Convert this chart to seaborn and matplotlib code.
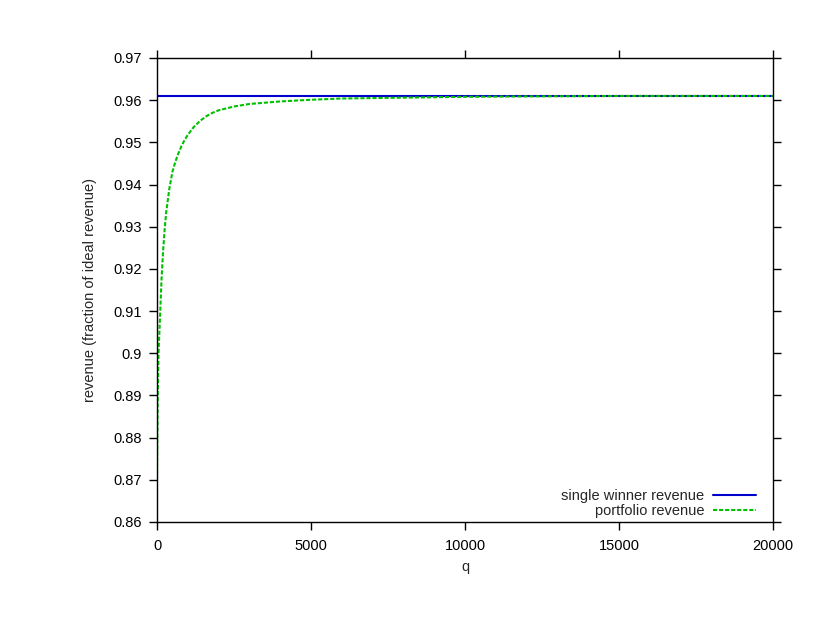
import numpy as np
import pandas as pd
import matplotlib
matplotlib.use("Agg")
import matplotlib.pyplot as plt
import seaborn as sns

# data
q_single = [0, 20000]
single_revenue = [0.961, 0.961]

q_portfolio = [0, 10, 25, 50, 100, 150, 200, 250, 300, 400, 500, 600, 700,
               800, 900, 1000, 1200, 1400, 1600, 1800, 2000, 2500, 3000, 4000,
               5000, 6000, 8000, 10000, 12000, 15000, 20000]
portfolio_revenue = [0.870, 0.880, 0.890, 0.900, 0.909, 0.918, 0.9245, 0.9295,
                     0.9335, 0.9390, 0.9430, 0.9455, 0.9475, 0.9492, 0.9506,
                     0.9518, 0.9537, 0.9551, 0.9562, 0.9570, 0.9576, 0.9585,
                     0.9591, 0.9597, 0.9601, 0.9604, 0.9606, 0.9608, 0.9609,
                     0.9610, 0.9610]

xticks = [0, 5000, 10000, 15000, 20000]
yticks = [0.86, 0.87, 0.88, 0.89, 0.90, 0.91, 0.92, 0.93, 0.94, 0.95, 0.96, 0.97]
ytick_labels = ["0.86", "0.87", "0.88", "0.89", "0.9", "0.91", "0.92", "0.93",
                "0.94", "0.95", "0.96", "0.97"]

sns.set_style("ticks")
plt.rcParams['font.family'] = ['Liberation Sans', 'DejaVu Sans']

fig = plt.figure(figsize=(8.25, 6.37), dpi=100)
ax = fig.add_axes([157/825, 1-522/637, (773-157)/825, (522-58)/637])

df1 = pd.DataFrame({"q": q_single, "rev": single_revenue})
df2 = pd.DataFrame({"q": q_portfolio, "rev": portfolio_revenue})

sns.lineplot(data=df1, x="q", y="rev", ax=ax, color="#0000cc", lw=1.5,
             label="single winner revenue")
sns.lineplot(data=df2, x="q", y="rev", ax=ax, color="#00c000", lw=1.5,
             linestyle=(0, (2, 0.9)), label="portfolio revenue")

ax.set_xlim(0, 20000)
ax.set_ylim(0.86, 0.97)
ax.set_xticks(xticks)
ax.set_xticklabels([str(t) for t in xticks])
ax.set_yticks(yticks)
ax.set_yticklabels(ytick_labels)
ax.tick_params(direction="out", length=6, width=1, top=True, right=True,
               labelsize=10.5, colors="black")
ax.tick_params(axis="y", pad=5)
ax.tick_params(axis="x", pad=6)
for s in ax.spines.values():
    s.set_linewidth(1)
    s.set_color("black")

ax.set_xlabel("q", fontsize=10.5, labelpad=5)
ax.set_ylabel("revenue (fraction of ideal revenue)", fontsize=10.5, labelpad=12)

leg = ax.legend(loc="lower right", bbox_to_anchor=(1 - 13/616, 0),
                frameon=False, markerfirst=False,
                fontsize=10.5, handlelength=2.9, borderaxespad=0,
                borderpad=0.3, labelspacing=0.05, handletextpad=0.6)
for t in leg.get_texts():
    t.set_ha("right")

fig.savefig("out.png", dpi=100)
